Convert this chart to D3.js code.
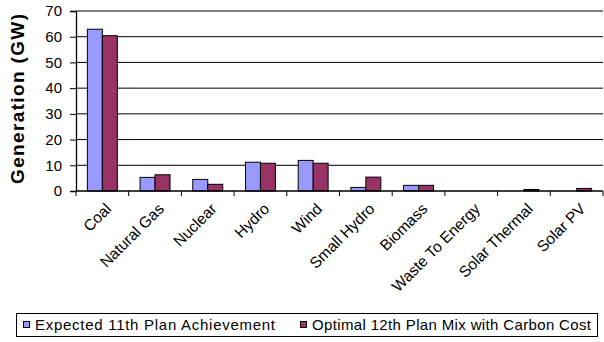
<!DOCTYPE html>
<html>
<head>
<meta charset="utf-8">
<script src="https://cdn.jsdelivr.net/npm/d3@7"></script>
<style>
  html, body { margin: 0; padding: 0; background: #fff; }
  svg { display: block; font-family: Arial, "Liberation Sans", sans-serif; }
</style>
</head>
<body>
<svg id="chart" width="604" height="342"></svg>
<script>
// Generation capacity by source (GW)
const categories = ["Coal", "Natural Gas", "Nuclear", "Hydro", "Wind", "Small Hydro",
                    "Biomass", "Waste To Energy", "Solar Thermal", "Solar PV"];
const seriesNames = ["Expected 11th Plan Achievement", "Optimal 12th Plan Mix with Carbon Cost"];
const expected11th = [62.9, 5.3, 4.5, 11.2, 11.9, 1.4, 2.2, 0, 0, 0];
const optimal12th  = [60.4, 6.3, 2.6, 10.8, 10.8, 5.4, 2.2, 0, 0.6, 1.0];
const yTicks = [0, 10, 20, 30, 40, 50, 60, 70];
const colors = ["#9999ff", "#993366"];

const svg = d3.select("#chart");
const plotLeft = 76, plotRight = 603, plotTop = 11, plotBottom = 191;

const x = d3.scaleBand().domain(categories).range([plotLeft, plotRight]).paddingInner(0).paddingOuter(0);
const x1 = d3.scaleBand().domain(seriesNames).range([0, x.bandwidth()]).paddingInner(0).paddingOuter(0.76);
const y = d3.scaleLinear().domain([0, 70]).range([plotBottom, plotTop]);

// horizontal gridlines
svg.append("g").selectAll("line").data(yTicks.filter(d => d > 0)).join("line")
  .attr("x1", plotLeft).attr("x2", plotRight)
  .attr("y1", d => y(d)).attr("y2", d => y(d))
  .attr("stroke", "#000").attr("stroke-width", 1);

// bars
const rows = categories.map((c, i) => ({ c, vals: [expected11th[i], optimal12th[i]] }));
const groups = svg.append("g").selectAll("g").data(rows).join("g")
  .attr("transform", d => `translate(${x(d.c)},0)`);
groups.selectAll("rect")
  .data(d => d.vals.map((v, k) => ({ v, k })).filter(e => e.v > 0))
  .join("rect")
  .attr("x", e => x1(seriesNames[e.k]))
  .attr("width", x1.bandwidth())
  .attr("y", e => y(e.v))
  .attr("height", e => y(0) - y(e.v))
  .attr("fill", e => colors[e.k])
  .attr("stroke", "#000").attr("stroke-width", 1);

// y axis
const yAxis = svg.append("g").attr("transform", `translate(${plotLeft},0)`)
  .call(d3.axisLeft(y).tickValues(yTicks).tickSize(6).tickPadding(8).tickFormat(d3.format("d")));
yAxis.select(".domain").attr("stroke", "#000").attr("stroke-width", 1.3);
yAxis.selectAll(".tick line").attr("stroke", "#000");
yAxis.selectAll("text").attr("font-size", 15).attr("fill", "#000")
  .attr("font-family", "Arial, 'Liberation Sans', sans-serif");

// x axis baseline with ticks at category boundaries
svg.append("line").attr("x1", plotLeft).attr("x2", plotRight).attr("y1", y(0)).attr("y2", y(0))
  .attr("stroke", "#000").attr("stroke-width", 1.5);
const bounds = categories.map(c => x(c)).concat([plotRight]);
svg.append("g").selectAll("line").data(bounds).join("line")
  .attr("x1", d => d).attr("x2", d => d)
  .attr("y1", y(0)).attr("y2", y(0) + 5)
  .attr("stroke", "#000");

// rotated category labels
svg.append("g").selectAll("text").data(categories).join("text")
  .attr("transform", d => `translate(${x(d) + x.bandwidth() / 2 + 6},${y(0) + 15}) rotate(-45)`)
  .attr("text-anchor", "end")
  .attr("font-size", 15.5)
  .attr("dy", "0.35em")
  .text(d => d);

// y axis title
svg.append("text")
  .attr("transform", "translate(24,99) rotate(-90)")
  .attr("text-anchor", "middle")
  .attr("font-size", 19).attr("font-weight", "bold")
  .attr("textLength", 170).attr("lengthAdjust", "spacing")
  .text("Generation (GW)");

// legend
const legend = svg.append("g");
legend.append("rect").attr("x", 16.5).attr("y", 313.5).attr("width", 581).attr("height", 23)
  .attr("fill", "#fff").attr("stroke", "#000");
const legendX = [23, 300];
const legendLen = [240, 279];
seriesNames.forEach((n, k) => {
  legend.append("rect").attr("x", legendX[k] + 0.5).attr("y", 321.5).attr("width", 6).attr("height", 6)
    .attr("fill", colors[k]).attr("stroke", "#000");
  legend.append("text").attr("x", legendX[k] + 12).attr("y", 330)
    .attr("font-size", 15)
    .attr("textLength", legendLen[k]).attr("lengthAdjust", "spacing")
    .text(n);
});
</script>
</body>
</html>
